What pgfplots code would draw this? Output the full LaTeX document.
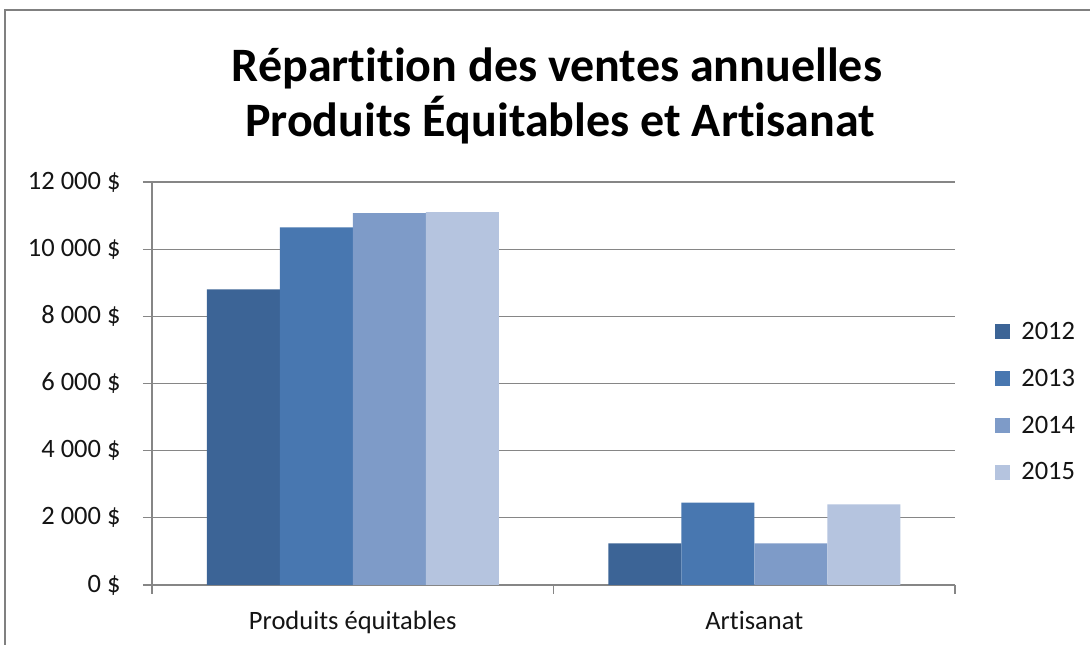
\documentclass[border=0pt]{standalone}
\usepackage{fontspec}
\setmainfont{Carlito}[Ligatures=NoCommon]
\usepackage{pgfplots}
\pgfplotsset{compat=1.18}
\definecolor{cA}{RGB}{60,100,150}
\definecolor{cB}{RGB}{72,119,176}
\definecolor{cC}{RGB}{126,155,200}
\definecolor{cD}{RGB}{181,196,223}
\definecolor{gridc}{RGB}{134,134,134}
\definecolor{framec}{RGB}{128,128,128}
\definecolor{txt}{RGB}{20,20,20}
\begin{document}
\begin{tikzpicture}[x=1pt,y=1pt]
\useasboundingbox (0,0) rectangle (1090,645);
\fill[white] (0,0) rectangle (1090,645);
\draw[framec, line width=2pt] (5,-5) -- (5,635) -- (1095,635);
\node[font=\fontsize{48}{56}\selectfont\bfseries, anchor=base, inner sep=0pt] at (557,563) {Répartition des ventes annuelles};
\node[font=\fontsize{48}{56}\selectfont\bfseries, anchor=base, inner sep=0pt] at (560,508) {Produits Équitables et Artisanat};
\begin{axis}[
  at={(152pt,60pt)}, anchor=south west,
  scale only axis, width=803pt, height=403pt,
  ybar=0pt, bar width=73pt,
  xmin=-0.5, xmax=1.5, ymin=0, ymax=12000,
  scaled y ticks=false,
  axis x line*=bottom, axis y line*=left,
  axis line style={gridc, line width=1.2pt},
  ytick={0,2000,4000,6000,8000,10000,12000},
  yticklabels={0~\$,2~000~\$,4~000~\$,6~000~\$,8~000~\$,10~000~\$,12~000~\$},
  xtick={0,1},
  xticklabels={Produits équitables,Artisanat},
  minor xtick={-0.5,0.5,1.5},
  tick align=outside,
  major tick length=9pt, minor tick length=9pt,
  major x tick style={draw=none},
  every tick/.style={gridc, line width=1.2pt},
  ymajorgrids,
  major grid style={gridc, line width=1.2pt},
  tick label style={font=\fontsize{26.5}{31}\selectfont, text=txt},
  yticklabel style={xshift=-19pt},
  xticklabel style={yshift=-14pt},
  legend style={at={(1.05,0.454)}, anchor=west, draw=none, fill=none,
    font=\fontsize{26.5}{31}\selectfont, text=txt, row sep=24pt, inner sep=0pt},
  legend cell align=left,
  legend image code/.code={\fill[#1] (0pt,-7.5pt) rectangle (15pt,7.5pt); \path (24pt,0pt);},
  clip=false,
]
\addplot[fill=cA, draw=none] coordinates {(0,8800) (1,1240)};
\addplot[fill=cB, draw=none] coordinates {(0,10650) (1,2450)};
\addplot[fill=cC, draw=none] coordinates {(0,11070) (1,1240)};
\addplot[fill=cD, draw=none] coordinates {(0,11100) (1,2400)};
\legend{2012,2013,2014,2015}
\end{axis}
\end{tikzpicture}
\end{document}
